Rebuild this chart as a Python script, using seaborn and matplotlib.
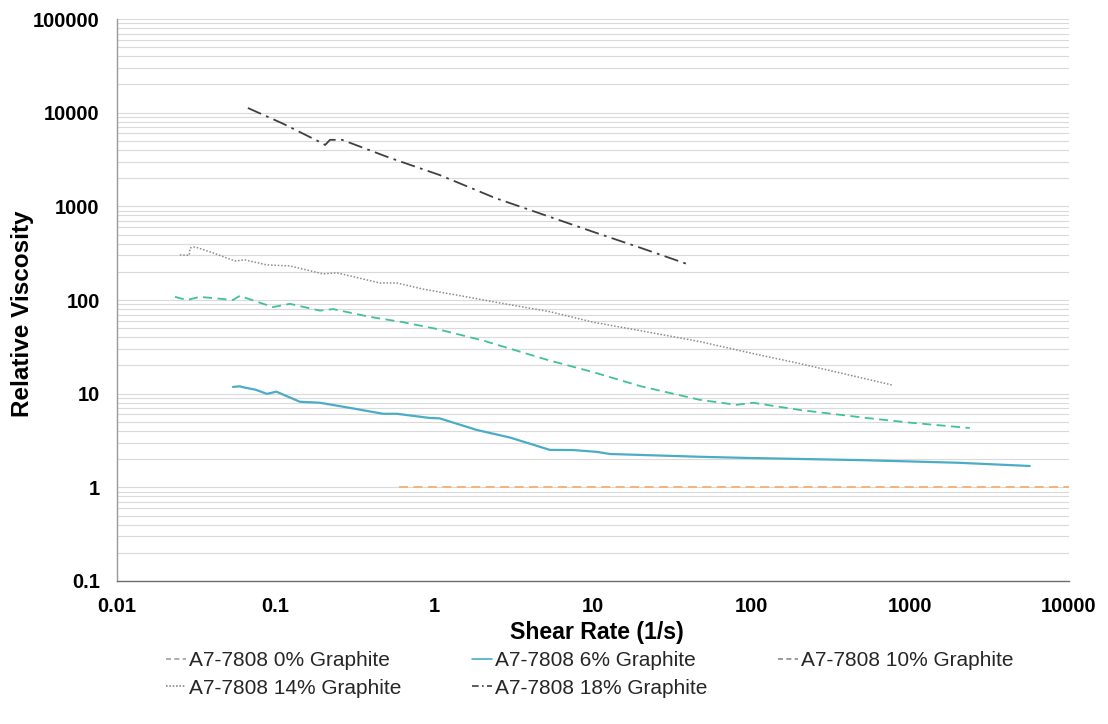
import numpy as np
import pandas as pd
import matplotlib
matplotlib.use("Agg")
import matplotlib.pyplot as plt
from matplotlib.lines import Line2D
from matplotlib.ticker import LogLocator, NullLocator, NullFormatter
import seaborn as sns

# ---------------- data ----------------
x0 = [0.6, 1, 10, 100, 1000, 10000]
y0 = [1.0, 1.0, 1.0, 1.0, 1.0, 1.0]

x6 = [0.0538, 0.0596, 0.061, 0.075, 0.088, 0.101, 0.142, 0.19, 0.294, 0.474, 0.58,
      0.938, 1.08, 1.85, 3.0, 5.35, 7.5, 10.6, 12.8, 47, 93, 500, 2000, 5660]
y6 = [11.8, 12.0, 11.8, 11.0, 9.95, 10.5, 8.2, 8.0, 7.05, 6.1, 6.1,
      5.5, 5.45, 4.1, 3.4, 2.51, 2.5, 2.39, 2.27, 2.12, 2.06, 1.95, 1.83, 1.69]

x10 = [0.0232, 0.0276, 0.0333, 0.0538, 0.0596, 0.064, 0.096, 0.123, 0.19, 0.23, 0.393,
       0.634, 1.04, 2.02, 5.13, 10, 20, 47, 80, 102, 201, 532, 1000, 2370]
y10 = [108, 100, 108, 100, 111, 106, 84, 91, 77, 80, 66,
       58, 49, 37, 23, 17, 12, 8.6, 7.6, 8.0, 6.7, 5.5, 4.9, 4.3]

x14 = [0.0249, 0.0285, 0.0289, 0.031, 0.040, 0.0554, 0.064, 0.088, 0.123, 0.199, 0.243,
       0.454, 0.581, 0.847, 1.6, 2.59, 5.35, 10, 20, 47, 100, 200, 400, 764]
y14 = [303, 300, 360, 369, 320, 261, 268, 237, 231, 190, 195,
       152, 152, 131, 108, 93, 75, 58, 47, 36, 27, 21, 16, 12.4]

x18 = [0.0668, 0.11, 0.19, 0.205, 0.22, 0.262, 0.525, 1.08, 2.41, 10, 20, 39]
y18 = [11220, 7700, 4860, 4520, 5130, 5130, 3290, 2160, 1230, 535, 360, 243]

labels = ["A7-7808 0% Graphite", "A7-7808 6% Graphite", "A7-7808 10% Graphite",
          "A7-7808 14% Graphite", "A7-7808 18% Graphite"]
xs = [x0, x6, x10, x14, x18]
ys = [y0, y6, y10, y14, y18]

# ---------------- styling ----------------
sns.set_theme(style="white")
plt.rcParams['font.family'] = ['Liberation Sans', 'DejaVu Sans']

colors = ['#F4AE74', '#4BACC6', '#3FC29B', '#8C8C8C', '#404040']
styles = [(0, (5, 3)), '-', (0, (5, 3)), (0, (1, 1.2)), (0, (8, 3, 1.5, 3))]
leg_styles = [(0, (3, 2)), '-', (0, (3, 2)), (0, (1, 1)), (0, (4, 2, 1, 2))]
leg_colors = ['#A0A0A0', '#4BACC6', '#8C8C8C', '#8C8C8C', '#404040']
widths = [1.3, 1.6, 1.3, 1.1, 1.3]

fig = plt.figure(figsize=(11.08, 7.24), dpi=100)
ax = fig.add_axes([117/1108, 1-581/724, (1069-117)/1108, (581-19)/724])

for lab, xv, yv, c, ls, lw in zip(labels, xs, ys, colors, styles, widths):
    df = pd.DataFrame({"x": xv, "y": yv})
    sns.lineplot(data=df, x="x", y="y", ax=ax, color=c, lw=lw,
                 estimator=None, sort=False, legend=False)
    ax.get_lines()[-1].set_linestyle(ls)

ax.set_xscale('log')
ax.set_yscale('log')
ax.set_xlim(0.01, 10000)
ax.set_ylim(0.1, 100000)

xt = [0.01, 0.1, 1, 10, 100, 1000, 10000]
yt = [0.1, 1, 10, 100, 1000, 10000, 100000]
ax.set_xticks(xt, [f"{v:g}" for v in xt], fontweight='bold', fontsize=14.5)
ax.set_yticks(yt, [f"{v:g}" for v in yt], fontweight='bold', fontsize=14.5)
ax.xaxis.set_minor_locator(NullLocator())
ax.yaxis.set_minor_locator(LogLocator(base=10, subs=np.arange(2, 10), numticks=20))
ax.yaxis.set_minor_formatter(NullFormatter())

ax.tick_params(axis='both', which='major', direction='out', length=4.5, width=1,
               color='#868686', labelcolor='black')
ax.tick_params(axis='x', which='major', pad=7)
ax.tick_params(axis='y', which='major', pad=8)
ax.tick_params(axis='y', which='minor', length=0)

ax.grid(False)
ax.grid(True, axis='y', which='both', color='#DADADA', lw=0.8)
ax.set_axisbelow(True)

for s in ['top', 'right']:
    ax.spines[s].set_visible(False)
ax.spines['left'].set_color('#9A9A9A')
ax.spines['bottom'].set_color('#6E6E6E')
ax.spines['left'].set_linewidth(1)
ax.spines['bottom'].set_linewidth(1)

ax.set_xlabel("Shear Rate (1/s)", fontweight='bold', fontsize=16.7, color='black')
ax.set_ylabel("Relative Viscosity", fontweight='bold', fontsize=17.5, color='black')
ax.xaxis.set_label_coords((597-117)/952, (581-621)/562)
ax.yaxis.set_label_coords((34-117)/952, (581-314)/562)

proxies = [Line2D([], [], color=c, ls=ls, lw=1.2) for c, ls in zip(leg_colors, leg_styles)]
order = [0, 3, 1, 4, 2]
fig.legend([proxies[i] for i in order], [labels[i] for i in order],
           loc='upper left', bbox_to_anchor=(166/1108, 1-651/724), ncol=3,
           frameon=False, fontsize=15, handlelength=0.95, handletextpad=0.15,
           columnspacing=3.4, labelspacing=0.42, borderpad=0, borderaxespad=0,
           labelcolor='#262626')

fig.savefig("out.png", dpi=100)
